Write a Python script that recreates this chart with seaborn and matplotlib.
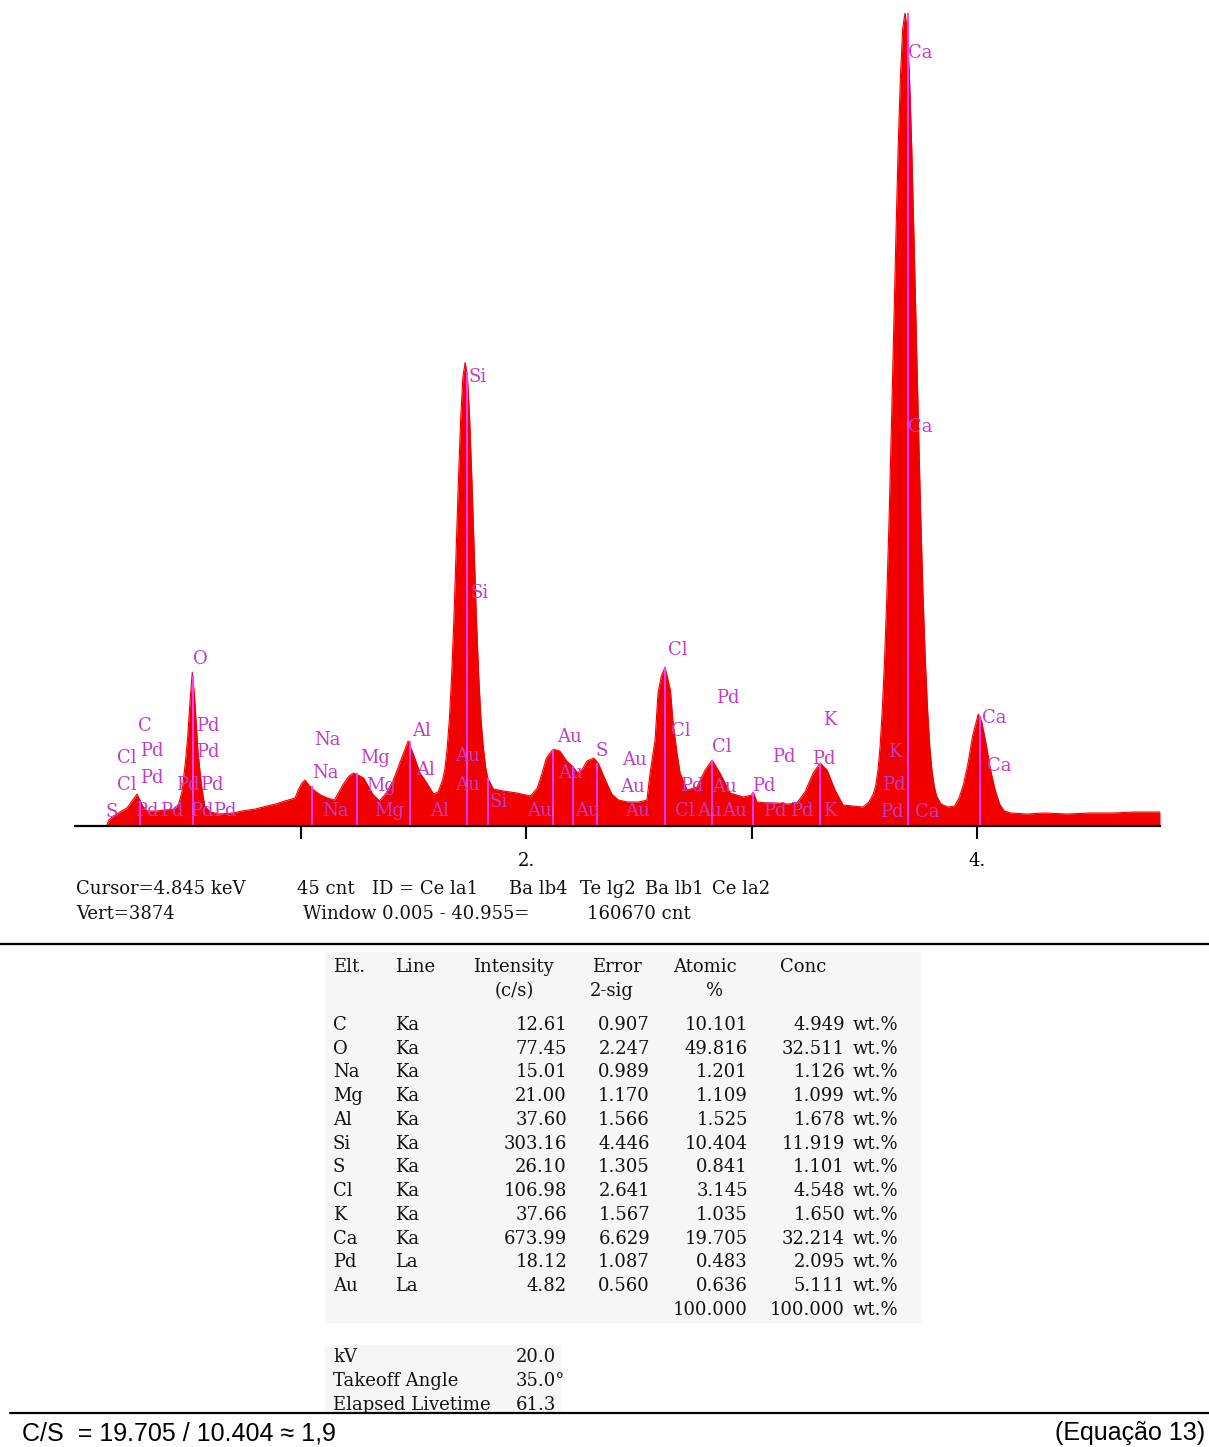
import numpy as np
import pandas as pd
import matplotlib
matplotlib.use("Agg")
import matplotlib.pyplot as plt
import seaborn as sns
from matplotlib.lines import Line2D
from matplotlib.patches import Rectangle

# ---------------- data: EDS spectrum (relative counts, full scale = 814) ----------------
energy_kev = [
    0.00, 0.14, 0.15, 0.17, 0.20, 0.23, 0.25, 0.275, 0.30, 0.32,
    0.36, 0.40, 0.44, 0.46, 0.475, 0.49, 0.50, 0.51, 0.52, 0.53,
    0.545, 0.56, 0.575, 0.60, 0.64, 0.70, 0.74, 0.80, 0.85, 0.89,
    0.93, 0.976, 0.99, 1.006, 1.02, 1.04, 1.064, 1.09, 1.12, 1.15,
    1.19, 1.215, 1.235, 1.255, 1.28, 1.32, 1.35, 1.38, 1.41, 1.435,
    1.455, 1.477, 1.50, 1.53, 1.56, 1.59, 1.61, 1.63, 1.64, 1.65,
    1.66, 1.67, 1.68, 1.69, 1.70, 1.71, 1.72, 1.73, 1.74, 1.75,
    1.76, 1.77, 1.78, 1.79, 1.80, 1.81, 1.82, 1.83, 1.855, 1.90,
    1.96, 2.02, 2.05, 2.07, 2.09, 2.12, 2.15, 2.18, 2.205, 2.23,
    2.25, 2.27, 2.30, 2.32, 2.35, 2.38, 2.41, 2.45, 2.50, 2.536,
    2.55, 2.572, 2.585, 2.60, 2.616, 2.64, 2.652, 2.668, 2.683, 2.714,
    2.758, 2.794, 2.825, 2.86, 2.905, 2.963, 3.00, 3.007, 3.024, 3.07,
    3.113, 3.16, 3.20, 3.237, 3.273, 3.304, 3.335, 3.37, 3.406, 3.45,
    3.494, 3.52, 3.54, 3.55, 3.56, 3.57, 3.58, 3.59, 3.60, 3.61,
    3.62, 3.63, 3.64, 3.65, 3.66, 3.67, 3.68, 3.69, 3.70, 3.71,
    3.72, 3.73, 3.74, 3.75, 3.76, 3.77, 3.78, 3.79, 3.80, 3.81,
    3.82, 3.84, 3.87, 3.90, 3.92, 3.94, 3.96, 3.98, 4.005, 4.02,
    4.04, 4.06, 4.08, 4.10, 4.12, 4.15, 4.22, 4.30, 4.40, 4.50,
    4.60, 4.70, 4.811,
]
intensity = [
    0, 0, 6, 10, 14, 18, 24, 32, 20, 15,
    15, 16, 17, 22, 35, 65, 90, 125, 154, 130,
    75, 42, 20, 14, 12, 13, 15, 17, 20, 22,
    25, 28, 36, 43, 46, 40, 35, 31, 28, 26,
    42, 50, 53, 51, 48, 32, 25, 33, 45, 60,
    72, 85, 72, 53, 43, 32, 34, 46, 57, 77,
    107, 150, 207, 275, 345, 407, 450, 464, 450, 407,
    345, 275, 207, 150, 107, 80, 60, 48, 37, 35,
    33, 30, 38, 52, 68, 77, 75, 65, 60, 53,
    57, 65, 68, 63, 47, 32, 26, 24, 24, 26,
    53, 86, 133, 150, 159, 136, 103, 75, 53, 36,
    39, 56, 66, 53, 33, 29, 31, 34, 24, 23,
    23, 22, 23, 34, 53, 63, 56, 36, 21, 20,
    19, 24, 32, 40, 55, 80, 118, 168, 232, 310,
    400, 495, 590, 680, 750, 798, 814, 798, 750, 680,
    590, 495, 400, 310, 232, 168, 118, 80, 55, 40,
    30, 22, 19, 20, 28, 42, 63, 90, 112, 105,
    82, 56, 36, 22, 15, 13, 12, 13, 12, 13,
    13, 14, 14,
]
FULL_SCALE = 814

# element marker lines (energy, height)
marker_energy = [0.29, 0.523, 1.05, 1.25, 1.486, 1.74, 1.83, 2.12, 2.21, 2.315,
                 2.616, 2.825, 3.007, 3.304, 3.694, 4.013]
marker_height = [25, 150, 40, 53, 85, 455, 48, 77, 60, 63,
                 159, 66, 34, 63, 814, 110]

# peak labels (text, energy, level)
label_text = ["Ca", "Ca", "Si", "Si", "O", "C", "Pd", "Cl", "Pd", "Pd",
              "Cl", "Pd", "Pd", "Pd", "S", "Pd", "Pd", "Pd", "Pd",
              "Na", "Na", "Na", "Mg", "Mg", "Mg", "Al", "Al", "Al",
              "Au", "Au", "Si", "Au", "Au", "Au", "Au", "S", "Au", "Au", "Au",
              "Cl", "Cl", "Cl", "Au", "Au", "Pd", "Cl", "Pd", "Au", "Pd", "Pd",
              "Pd", "Pd", "K", "Pd", "K", "K", "Pd", "Pd", "Ca", "Ca", "Ca"]
label_energy = [3.694, 3.694, 1.743, 1.752, 0.523, 0.279, 0.537, 0.186, 0.288, 0.537,
                0.186, 0.288, 0.448, 0.554, 0.137, 0.265, 0.376, 0.510, 0.612,
                1.060, 1.051, 1.095, 1.264, 1.290, 1.326, 1.494, 1.512, 1.574,
                1.685, 1.685, 1.840, 2.137, 2.142, 2.004, 2.217, 2.310, 2.426, 2.417, 2.439,
                2.630, 2.643, 2.661, 2.758, 2.869, 2.843, 2.825, 2.683, 2.825, 3.002, 3.091,
                3.051, 3.171, 3.317, 3.268, 3.317, 3.605, 3.579, 3.570, 3.725, 4.022, 4.044]
label_level = [774, 399, 450, 233, 167, 100, 100, 68, 75, 74,
               41, 48, 41, 41, 14, 15, 15, 15, 15,
               86, 53, 15, 68, 40, 15, 95, 56, 15,
               70, 41, 24, 89, 53, 15, 15, 75, 66, 39, 15,
               176, 95, 15, 15, 15, 128, 79, 40, 39, 40, 69,
               15, 15, 15, 67, 106, 74, 41, 14, 14, 108, 60]

tick_values = [1, 2, 3, 4]
tick_labels = ["", "2.", "", "4."]

# ---------------- data: quantification table ----------------
elements = ["C", "O", "Na", "Mg", "Al", "Si", "S", "Cl", "K", "Ca", "Pd", "Au"]
xray_lines = ["Ka", "Ka", "Ka", "Ka", "Ka", "Ka", "Ka", "Ka", "Ka", "Ka", "La", "La"]
intensity_cps = [12.61, 77.45, 15.01, 21.00, 37.60, 303.16, 26.10, 106.98, 37.66, 673.99, 18.12, 4.82]
error_2sig = [0.907, 2.247, 0.989, 1.170, 1.566, 4.446, 1.305, 2.641, 1.567, 6.629, 1.087, 0.560]
atomic_pct = [10.101, 49.816, 1.201, 1.109, 1.525, 10.404, 0.841, 3.145, 1.035, 19.705, 0.483, 0.636]
conc_wt = [4.949, 32.511, 1.126, 1.099, 1.678, 11.919, 1.101, 4.548, 1.650, 32.214, 2.095, 5.111]
totals = ["100.000", "100.000"]

cond_names = ["kV", "Takeoff Angle", "Elapsed Livetime"]
cond_values = ["20.0", "35.0°", "61.3"]

# ---------------- figure ----------------
W, H = 1209, 1447
sns.set_theme(style="white")
plt.rcParams["font.family"] = ["DejaVu Serif", "DejaVu Sans"]

RED = "#f20000"
MAG_LINE = "#ff3cff"
MAG_TEXT = "#c23cc8"

fig = plt.figure(figsize=(W / 100, H / 100), dpi=100)
fig.patch.set_facecolor("white")


def fx(x):
    return x / W


def fy(y):
    return 1 - y / H


ax = fig.add_axes([fx(75), fy(826), (1160 - 75) / W, (826 - 13) / H])
df = pd.DataFrame({"energy": energy_kev, "intensity": intensity})
ax.fill_between(df["energy"], 0, df["intensity"], color=RED, lw=0, zorder=1)
sns.lineplot(data=df, x="energy", y="intensity", color=RED, lw=0.8,
             estimator=None, sort=False, ax=ax, zorder=1.5)
ax.vlines(marker_energy, 0, marker_height, color=MAG_LINE, lw=1.4, zorder=2)
for t, e, lv in zip(label_text, label_energy, label_level):
    ax.text(e, lv, t, color=MAG_TEXT, fontsize=13, ha="left", va="center",
            family=["DejaVu Serif"], zorder=3, clip_on=False)

ax.set_xlim(0, 4.811)
ax.set_ylim(0, FULL_SCALE)
ax.set_xticks(tick_values)
ax.set_xticklabels(tick_labels)
ax.set_yticks([])
ax.set_xlabel("")
ax.set_ylabel("")
for s in ["top", "left", "right"]:
    ax.spines[s].set_visible(False)
ax.spines["bottom"].set_color("black")
ax.spines["bottom"].set_linewidth(1.6)
ax.tick_params(axis="x", direction="out", length=9, width=1.5, color="black",
               pad=10, labelsize=13, labelcolor="black", bottom=True)

# ---- status text under spectrum ----
status1 = [("Cursor=4.845 keV", 76), ("45 cnt", 297), ("ID = Ce la1", 372),
           ("Ba lb4", 509), ("Te lg2", 580), ("Ba lb1", 645), ("Ce la2", 712)]
status2 = [("Vert=3874", 76), ("Window 0.005 - 40.955=", 303), ("160670 cnt", 587)]
for t, x in status1:
    fig.text(fx(x), fy(889), t, fontsize=13, ha="left", va="center", color="#111111")
for t, x in status2:
    fig.text(fx(x), fy(914), t, fontsize=13, ha="left", va="center", color="#111111")

# ---- separators ----
fig.add_artist(Line2D([fx(0), fx(1209)], [fy(944), fy(944)], transform=fig.transFigure,
                      color="black", lw=1.6))
fig.add_artist(Line2D([fx(10), fx(1209)], [fy(1413), fy(1413)], transform=fig.transFigure,
                      color="black", lw=1.6))

# ---- table backgrounds ----
fig.add_artist(Rectangle((fx(325), fy(1322)), (920 - 325) / W, (1322 - 952) / H,
                         transform=fig.transFigure, color="#f6f6f6", zorder=0))
fig.add_artist(Rectangle((fx(325), fy(1412)), (560 - 325) / W, (1412 - 1345) / H,
                         transform=fig.transFigure, color="#f6f6f6", zorder=0))

TFS = 13
TC = "#111111"
hdr1 = [("Elt.", 333), ("Line", 395), ("Intensity", 473), ("Error", 592), ("Atomic", 673), ("Conc", 780)]
hdr2 = [("(c/s)", 495), ("2-sig", 590), ("%", 706)]
for t, x in hdr1:
    fig.text(fx(x), fy(967), t, fontsize=TFS, ha="left", va="center", color=TC)
for t, x in hdr2:
    fig.text(fx(x), fy(991), t, fontsize=TFS, ha="left", va="center", color=TC)

row_y0, row_dy = 1025, 23.73
for i in range(len(elements)):
    y = fy(row_y0 + i * row_dy)
    fig.text(fx(333), y, elements[i], fontsize=TFS, ha="left", va="center", color=TC)
    fig.text(fx(395), y, xray_lines[i], fontsize=TFS, ha="left", va="center", color=TC)
    fig.text(fx(567), y, f"{intensity_cps[i]:.2f}", fontsize=TFS, ha="right", va="center", color=TC)
    fig.text(fx(650), y, f"{error_2sig[i]:.3f}", fontsize=TFS, ha="right", va="center", color=TC)
    fig.text(fx(748), y, f"{atomic_pct[i]:.3f}", fontsize=TFS, ha="right", va="center", color=TC)
    fig.text(fx(845), y, f"{conc_wt[i]:.3f}", fontsize=TFS, ha="right", va="center", color=TC)
    fig.text(fx(853), y, "wt.%", fontsize=TFS, ha="left", va="center", color=TC)
yt = fy(row_y0 + len(elements) * row_dy)
fig.text(fx(748), yt, totals[0], fontsize=TFS, ha="right", va="center", color=TC)
fig.text(fx(845), yt, totals[1], fontsize=TFS, ha="right", va="center", color=TC)
fig.text(fx(853), yt, "wt.%", fontsize=TFS, ha="left", va="center", color=TC)

for i, (n, v) in enumerate(zip(cond_names, cond_values)):
    y = fy(1357 + i * 24)
    fig.text(fx(333), y, n, fontsize=TFS, ha="left", va="center", color=TC)
    fig.text(fx(516), y, v, fontsize=TFS, ha="left", va="center", color=TC)

# ---- equation line ----
fig.text(fx(22), fy(1440), "C/S  = 19.705 / 10.404 ≈ 1,9", fontsize=18,
         family=["Liberation Sans", "DejaVu Sans"], ha="left", va="baseline", color="black")
fig.text(fx(1205), fy(1440), "(Equação 13)", fontsize=18,
         family=["Liberation Sans", "DejaVu Sans"], ha="right", va="baseline", color="black")

fig.savefig("out.png", dpi=100)
